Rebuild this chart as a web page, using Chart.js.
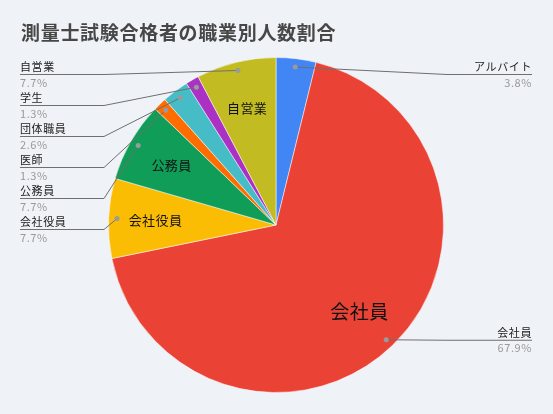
<!DOCTYPE html>
<html>
<head>
<meta charset="utf-8">
<script src="https://cdn.jsdelivr.net/npm/chart.js@4"></script>
<style>
  html, body { margin: 0; padding: 0; background: #eff2f7; }
  #wrap { width: 553px; height: 414px; position: relative; }
</style>
</head>
<body>
<div id="wrap"><canvas id="c" width="553" height="414"></canvas></div>
<script>
const title = '測量士試験合格者の職業別人数割合';
const categories = ['アルバイト', '会社員', '会社役員', '公務員', '医師', '団体職員', '学生', '自営業'];
const counts = [3, 53, 6, 6, 1, 2, 1, 6];
const colors = ['#4285f4', '#ea4335', '#fbbc04', '#0f9d58', '#ff6d01', '#46bdc6', '#ab30c4', '#c2bc22'];

const total = counts.reduce((a, b) => a + b, 0);
const pctText = v => (v / total * 100).toFixed(1) + '%';

const FONT = '"Noto Sans CJK JP", "Noto Sans", Roboto, sans-serif';

const labelPlugin = {
  id: 'labelPlugin',
  afterDatasetsDraw(chart) {
    const ctx = chart.ctx;
    const meta = chart.getDatasetMeta(0);
    const arcs = meta.data;
    ctx.save();
    // title
    ctx.fillStyle = '#474747';
    ctx.font = 'bold 19px ' + FONT;
    ctx.letterSpacing = '0.7px';
    ctx.textAlign = 'left';
    ctx.textBaseline = 'middle';
    ctx.fillText(title, 21, 33);

    // inner labels
    arcs.forEach((arc, i) => {
      const pct = counts[i] / total * 100;
      if (pct < 5) return;
      const mid = (arc.startAngle + arc.endAngle) / 2;
      const r = arc.outerRadius * 0.72;
      const x = arc.x + Math.cos(mid) * r;
      const y = arc.y + Math.sin(mid) * r;
      ctx.fillStyle = '#111';
      ctx.font = (pct > 50 ? '19px ' : '13px ') + FONT;
      ctx.letterSpacing = pct > 50 ? '0.5px' : '0.4px';
      ctx.textAlign = 'center';
      ctx.textBaseline = 'middle';
      ctx.fillText(categories[i], x, y);
    });

    // outer labels with leader lines
    const items = arcs.map((arc, i) => {
      const mid = (arc.startAngle + arc.endAngle) / 2;
      const r = arc.outerRadius * 0.95;
      return { i, dx: arc.x + Math.cos(mid) * r, dy: arc.y + Math.sin(mid) * r, left: Math.cos(mid) < 0 };
    });
    const top = chart.chartArea.top + 17;
    ['left', 'right'].forEach(side => {
      const list = items.filter(it => (side === 'left') === it.left).sort((a, b) => a.dy - b.dy);
      let prev = -Infinity;
      list.forEach(it => {
        const ly = Math.max(it.dy, prev + 31, top);
        prev = ly;
        const xEdge = side === 'left' ? 20 : 532;
        const xBend = side === 'left' ? 104 : 447;
        ctx.strokeStyle = '#6f6f6f';
        ctx.lineWidth = 1;
        ctx.beginPath();
        ctx.moveTo(xEdge, ly + 0.5);
        ctx.lineTo(xBend, ly + 0.5);
        ctx.lineTo(it.dx, it.dy);
        ctx.stroke();
        ctx.fillStyle = '#9a9a9a';
        ctx.beginPath();
        ctx.arc(it.dx, it.dy, 2.5, 0, Math.PI * 2);
        ctx.fill();
        ctx.textAlign = side === 'left' ? 'left' : 'right';
        ctx.letterSpacing = '0.6px';
        ctx.textBaseline = 'alphabetic';
        ctx.fillStyle = '#222';
        ctx.font = '11px ' + FONT;
        ctx.fillText(categories[it.i], xEdge, ly - 3);
        ctx.textBaseline = 'top';
        ctx.fillStyle = '#999';
        ctx.fillText(pctText(counts[it.i]), xEdge, ly + 3);
      });
    });
    ctx.restore();
  }
};

new Chart(document.getElementById('c'), {
  type: 'pie',
  data: {
    labels: categories,
    datasets: [{
      data: counts,
      backgroundColor: colors,
      borderColor: 'rgba(255,255,255,0.5)',
      borderWidth: 1
    }]
  },
  options: {
    responsive: false,
    animation: false,
    layout: { padding: { top: 57, bottom: 21, left: 108, right: 109 } },
    plugins: {
      legend: { display: false },
      tooltip: { enabled: false },
      title: { display: false }
    }
  },
  plugins: [labelPlugin]
});
</script>
</body>
</html>
